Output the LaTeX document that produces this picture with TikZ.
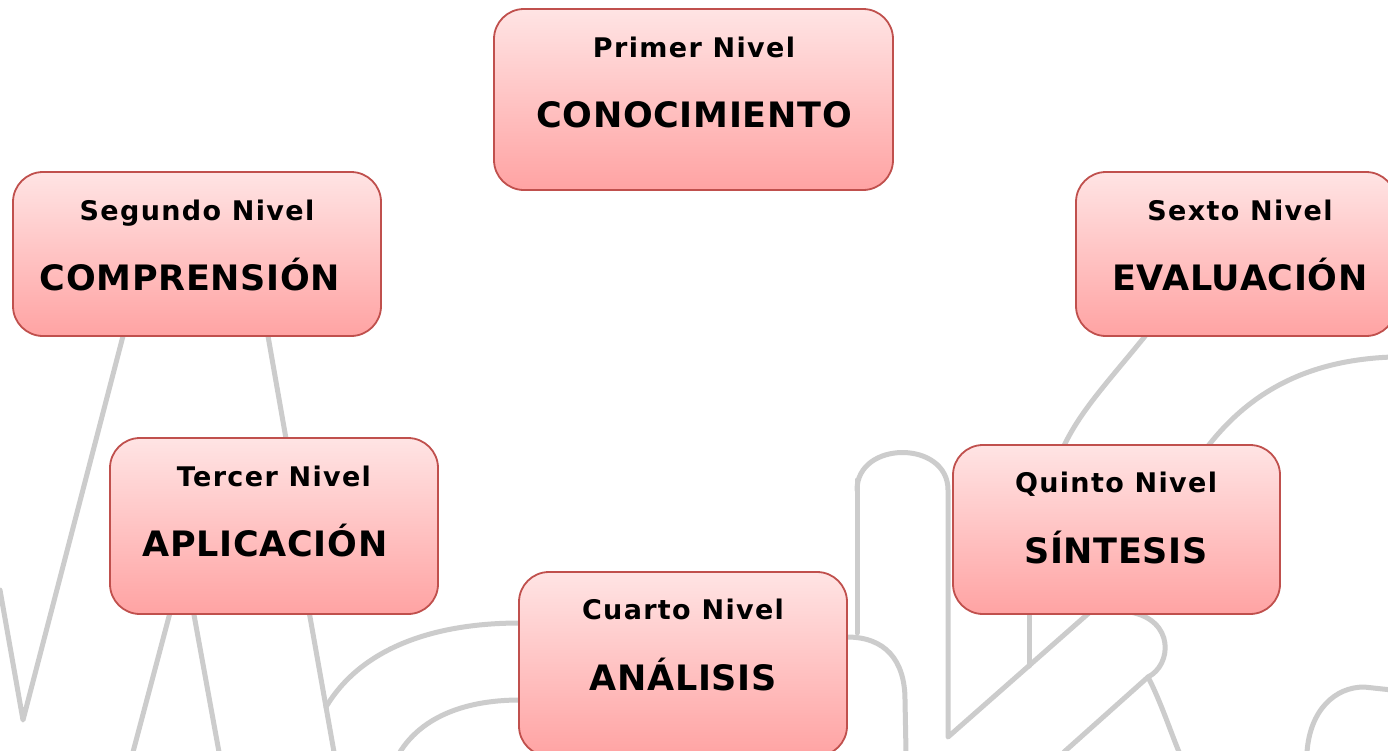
\documentclass[tikz,border=0pt]{standalone}
\usepackage{fontspec}
\setmainfont{DejaVu Sans}
\newfontfamily\lvlsmall[LetterSpace=5]{DejaVu Sans Bold}
\newfontfamily\lvlbig[LetterSpace=2]{DejaVu Sans Bold}
\definecolor{boxborder}{HTML}{C0504D}
\definecolor{boxtop}{HTML}{FFE4E4}
\definecolor{boxbottom}{HTML}{FFA3A3}
\definecolor{wmark}{HTML}{CCCCCC}
\begin{document}
\begin{tikzpicture}[x=1pt,y=-1pt,
  levelbox/.style={draw=boxborder, line width=1.8pt, rounded corners=30pt,
    top color=boxtop, bottom color=boxbottom, rectangle, inner sep=0pt},
  smalltext/.style={anchor=base, inner sep=0pt, font=\lvlsmall\fontsize{27}{31}\selectfont},
  bigtext/.style={anchor=base, inner sep=0pt, font=\lvlbig\fontsize{35}{40}\selectfont},
  wm/.style={draw=wmark, line width=5pt, line cap=round, line join=round}]
\useasboundingbox (0,0) rectangle (1388,750);
\fill[white] (0,0) rectangle (1388,750);
% watermark strokes
\path[wm] (0,590) -- (23,720) -- (123,336);
\path[wm] (268,336) -- (288,450);
\path[wm] (133,752) -- (184,560) -- (219,752);
\path[wm] (307,600) -- (334,752);
\path[wm] (326,707) .. controls (360,650) and (430,623) .. (520,623);
\path[wm] (400,752) .. controls (420,720) and (460,700) .. (520,700);
\path[wm] (857,480) -- (857,633);
\path[wm] (847,637) .. controls (885,637) and (905,660) .. (905,700) -- (906,752);
\path[wm] (857,490) .. controls (857,440) and (948,440) .. (948,490) -- (948,737) -- (1090,612);
\path[wm] (1029,612) -- (1029,666);
\path[wm] (1130,612) .. controls (1175,620) and (1172,665) .. (1148,677) -- (1064,752);
\path[wm] (1148,677) .. controls (1160,700) and (1170,730) .. (1179,752);
\path[wm] (1307,752) .. controls (1310,710) and (1335,687) .. (1364,687) -- (1392,690);
\path[wm] (1150,330) .. controls (1110,380) and (1080,410) .. (1062,450);
\path[wm] (1205,450) .. controls (1250,390) and (1310,360) .. (1392,357);
% level boxes
\node[levelbox, minimum width=399pt, minimum height=181pt] (b1) at (693.5,99.5) {};
\node[levelbox, minimum width=368pt, minimum height=164pt] (b2) at (197,254) {};
\node[levelbox, minimum width=320pt, minimum height=164pt] (b6) at (1236,254) {};
\node[levelbox, minimum width=328pt, minimum height=176pt] (b3) at (274,526) {};
\node[levelbox, minimum width=327pt, minimum height=169pt] (b5) at (1116.5,529.5) {};
\node[levelbox, minimum width=328pt, minimum height=184pt] (b4) at (683,664) {};
% texts
\node[smalltext] (t1a) at (694,57.5) {Primer Nivel};
\node[bigtext] (t1b) at (694,127.5) {CONOCIMIENTO};
\node[smalltext] (t2a) at (197,220.5) {Segundo Nivel};
\node[bigtext] (t2b) at (190,290.5) {COMPRENSIÓN};
\node[smalltext] (t6a) at (1240,220.5) {Sexto Nivel};
\node[bigtext] (t6b) at (1240,290.5) {EVALUACIÓN};
\node[smalltext] (t3a) at (274,486.5) {Tercer Nivel};
\node[bigtext] (t3b) at (265,556.5) {APLICACIÓN};
\node[smalltext] (t5a) at (1116,492.5) {Quinto Nivel};
\node[bigtext] (t5b) at (1116,563.5) {SÍNTESIS};
\node[smalltext] (t4a) at (683,619.5) {Cuarto Nivel};
\node[bigtext] (t4b) at (683,690.5) {ANÁLISIS};
\end{tikzpicture}
\end{document}
